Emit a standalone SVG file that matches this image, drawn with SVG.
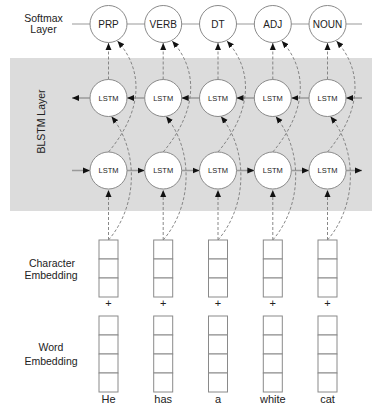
<svg xmlns="http://www.w3.org/2000/svg" width="372" height="406" viewBox="0 0 372 406">
  <style>
    .lbl { font-family: "Liberation Sans", Arial, sans-serif; font-size: 10.5px; fill: #222; text-anchor: middle; }
    .word { font-family: "Liberation Sans", Arial, sans-serif; font-size: 11px; fill: #222; text-anchor: middle; }
    .tag { font-family: "Liberation Sans", Arial, sans-serif; font-size: 10px; fill: #222; text-anchor: middle; }
    .cell-txt { font-family: "Liberation Sans", Arial, sans-serif; font-size: 7.5px; fill: #222; text-anchor: middle; }
    .circle { fill: #fff; stroke: #8a8a8a; stroke-width: 1; }
    .box { fill: #fff; stroke: #8a8a8a; stroke-width: 1; }
    .flow { fill: none; stroke: #9a9a9a; stroke-width: 1.5; marker-end: url(#head); }
    .dash { fill: none; stroke: #7a7a7a; stroke-width: 0.9; stroke-dasharray: 3 2; marker-end: url(#head); }
  </style>
  <defs>
    <marker id="head" markerUnits="userSpaceOnUse" markerWidth="7" markerHeight="7" viewBox="0 0 7 7" refX="7" refY="3.5" orient="auto">
      <path d="M0,0.5 L7,3.5 L0,6.5 z" fill="#111"/>
    </marker>
  </defs>

  <!-- BLSTM band -->
  <rect x="10" y="58" width="362" height="153" fill="#dcdcdc"/>

  <!-- side labels -->
  <g id="labels">
    <text class="lbl" x="43.5" y="22">Softmax</text>
    <text class="lbl" x="43.5" y="33">Layer</text>
    <text class="lbl" x="0" y="0" font-size="11" transform="translate(44.5,121.5) rotate(-90)">BLSTM Layer</text>
    <text class="lbl" x="52" y="267">Character</text>
    <text class="lbl" x="51" y="279">Embedding</text>
    <text class="lbl" x="51" y="351">Word</text>
    <text class="lbl" x="51" y="365">Embedding</text>
  </g>

  <!-- connectors -->
  <g id="connectors">
    <path d="M72,24 H362" stroke="#9a9a9a" stroke-width="1.2" fill="none"/>

    <!-- backward recurrence (top row, right to left) -->
    <path class="flow" d="M90,98 H72"/>
    <path class="flow" d="M144.7,98 H127"/>
    <path class="flow" d="M199.5,98 H181.7"/>
    <path class="flow" d="M254.3,98 H236.5"/>
    <path class="flow" d="M309,98 H291.3"/>
    <path class="flow" d="M362,98 H346"/>

    <!-- forward recurrence (bottom row, left to right) -->
    <path class="flow" d="M72,170.5 H90"/>
    <path class="flow" d="M127,170.5 H144.7"/>
    <path class="flow" d="M181.7,170.5 H199.5"/>
    <path class="flow" d="M236.5,170.5 H254.3"/>
    <path class="flow" d="M291.3,170.5 H309"/>
    <path class="flow" d="M346,170.5 H362"/>

    <!-- column 1 -->
    <path class="dash" d="M108.5,240 V190"/>
    <path class="dash" d="M108.5,79.5 V43"/>
    <path class="dash" d="M108.5,240 C138.5,205 138.5,150 111.5,116.5"/>
    <path class="dash" d="M108.5,152 C143.5,110 143.5,70 117.5,41"/>
    <!-- column 2 -->
    <path class="dash" d="M163.2,240 V190"/>
    <path class="dash" d="M163.2,79.5 V43"/>
    <path class="dash" d="M163.2,240 C193.2,205 193.2,150 166.2,116.5"/>
    <path class="dash" d="M163.2,152 C198.2,110 198.2,70 172.2,41"/>
    <!-- column 3 -->
    <path class="dash" d="M218,240 V190"/>
    <path class="dash" d="M218,79.5 V43"/>
    <path class="dash" d="M218,240 C248,205 248,150 221,116.5"/>
    <path class="dash" d="M218,152 C253,110 253,70 227,41"/>
    <!-- column 4 -->
    <path class="dash" d="M272.8,240 V190"/>
    <path class="dash" d="M272.8,79.5 V43"/>
    <path class="dash" d="M272.8,240 C302.8,205 302.8,150 275.8,116.5"/>
    <path class="dash" d="M272.8,152 C307.8,110 307.8,70 281.8,41"/>
    <!-- column 5 -->
    <path class="dash" d="M327.5,240 V190"/>
    <path class="dash" d="M327.5,79.5 V43"/>
    <path class="dash" d="M327.5,240 C357.5,205 357.5,150 330.5,116.5"/>
    <path class="dash" d="M327.5,152 C362.5,110 362.5,70 336.5,41"/>
  </g>

  <!-- softmax outputs -->
  <g id="out-prp"><circle class="circle" cx="108.5" cy="24" r="18.5"/><text class="tag" x="108.5" y="27.5">PRP</text></g>
  <g id="out-verb"><circle class="circle" cx="163.2" cy="24" r="18.5"/><text class="tag" x="163.2" y="27.5">VERB</text></g>
  <g id="out-dt"><circle class="circle" cx="218" cy="24" r="18.5"/><text class="tag" x="218" y="27.5">DT</text></g>
  <g id="out-adj"><circle class="circle" cx="272.8" cy="24" r="18.5"/><text class="tag" x="272.8" y="27.5">ADJ</text></g>
  <g id="out-noun"><circle class="circle" cx="327.5" cy="24" r="18.5"/><text class="tag" x="327.5" y="27.5">NOUN</text></g>

  <!-- backward LSTM cells -->
  <g id="bw-1"><circle class="circle" cx="108.5" cy="98" r="18.5"/><text class="cell-txt" x="108.5" y="100.7">LSTM</text></g>
  <g id="bw-2"><circle class="circle" cx="163.2" cy="98" r="18.5"/><text class="cell-txt" x="163.2" y="100.7">LSTM</text></g>
  <g id="bw-3"><circle class="circle" cx="218" cy="98" r="18.5"/><text class="cell-txt" x="218" y="100.7">LSTM</text></g>
  <g id="bw-4"><circle class="circle" cx="272.8" cy="98" r="18.5"/><text class="cell-txt" x="272.8" y="100.7">LSTM</text></g>
  <g id="bw-5"><circle class="circle" cx="327.5" cy="98" r="18.5"/><text class="cell-txt" x="327.5" y="100.7">LSTM</text></g>

  <!-- forward LSTM cells -->
  <g id="fw-1"><circle class="circle" cx="108.5" cy="170.5" r="18.5"/><text class="cell-txt" x="108.5" y="173.2">LSTM</text></g>
  <g id="fw-2"><circle class="circle" cx="163.2" cy="170.5" r="18.5"/><text class="cell-txt" x="163.2" y="173.2">LSTM</text></g>
  <g id="fw-3"><circle class="circle" cx="218" cy="170.5" r="18.5"/><text class="cell-txt" x="218" y="173.2">LSTM</text></g>
  <g id="fw-4"><circle class="circle" cx="272.8" cy="170.5" r="18.5"/><text class="cell-txt" x="272.8" y="173.2">LSTM</text></g>
  <g id="fw-5"><circle class="circle" cx="327.5" cy="170.5" r="18.5"/><text class="cell-txt" x="327.5" y="173.2">LSTM</text></g>

  <!-- embeddings: character vector (3 cells), "+", word vector (4 cells), token -->
  <g id="tok-he">
    <rect class="box" x="99" y="240" width="19" height="19"/><rect class="box" x="99" y="259" width="19" height="19"/><rect class="box" x="99" y="278" width="19" height="19"/>
    <text class="word" x="108.5" y="307">+</text>
    <rect class="box" x="99" y="316" width="19" height="19"/><rect class="box" x="99" y="335" width="19" height="19"/><rect class="box" x="99" y="354" width="19" height="19"/><rect class="box" x="99" y="373" width="19" height="19"/>
    <text class="word" x="108.5" y="403">He</text>
  </g>
  <g id="tok-has">
    <rect class="box" x="153.7" y="240" width="19" height="19"/><rect class="box" x="153.7" y="259" width="19" height="19"/><rect class="box" x="153.7" y="278" width="19" height="19"/>
    <text class="word" x="163.2" y="307">+</text>
    <rect class="box" x="153.7" y="316" width="19" height="19"/><rect class="box" x="153.7" y="335" width="19" height="19"/><rect class="box" x="153.7" y="354" width="19" height="19"/><rect class="box" x="153.7" y="373" width="19" height="19"/>
    <text class="word" x="163.2" y="403">has</text>
  </g>
  <g id="tok-a">
    <rect class="box" x="208.5" y="240" width="19" height="19"/><rect class="box" x="208.5" y="259" width="19" height="19"/><rect class="box" x="208.5" y="278" width="19" height="19"/>
    <text class="word" x="218" y="307">+</text>
    <rect class="box" x="208.5" y="316" width="19" height="19"/><rect class="box" x="208.5" y="335" width="19" height="19"/><rect class="box" x="208.5" y="354" width="19" height="19"/><rect class="box" x="208.5" y="373" width="19" height="19"/>
    <text class="word" x="218" y="403">a</text>
  </g>
  <g id="tok-white">
    <rect class="box" x="263.3" y="240" width="19" height="19"/><rect class="box" x="263.3" y="259" width="19" height="19"/><rect class="box" x="263.3" y="278" width="19" height="19"/>
    <text class="word" x="272.8" y="307">+</text>
    <rect class="box" x="263.3" y="316" width="19" height="19"/><rect class="box" x="263.3" y="335" width="19" height="19"/><rect class="box" x="263.3" y="354" width="19" height="19"/><rect class="box" x="263.3" y="373" width="19" height="19"/>
    <text class="word" x="272.8" y="403">white</text>
  </g>
  <g id="tok-cat">
    <rect class="box" x="318" y="240" width="19" height="19"/><rect class="box" x="318" y="259" width="19" height="19"/><rect class="box" x="318" y="278" width="19" height="19"/>
    <text class="word" x="327.5" y="307">+</text>
    <rect class="box" x="318" y="316" width="19" height="19"/><rect class="box" x="318" y="335" width="19" height="19"/><rect class="box" x="318" y="354" width="19" height="19"/><rect class="box" x="318" y="373" width="19" height="19"/>
    <text class="word" x="327.5" y="403">cat</text>
  </g>
</svg>
